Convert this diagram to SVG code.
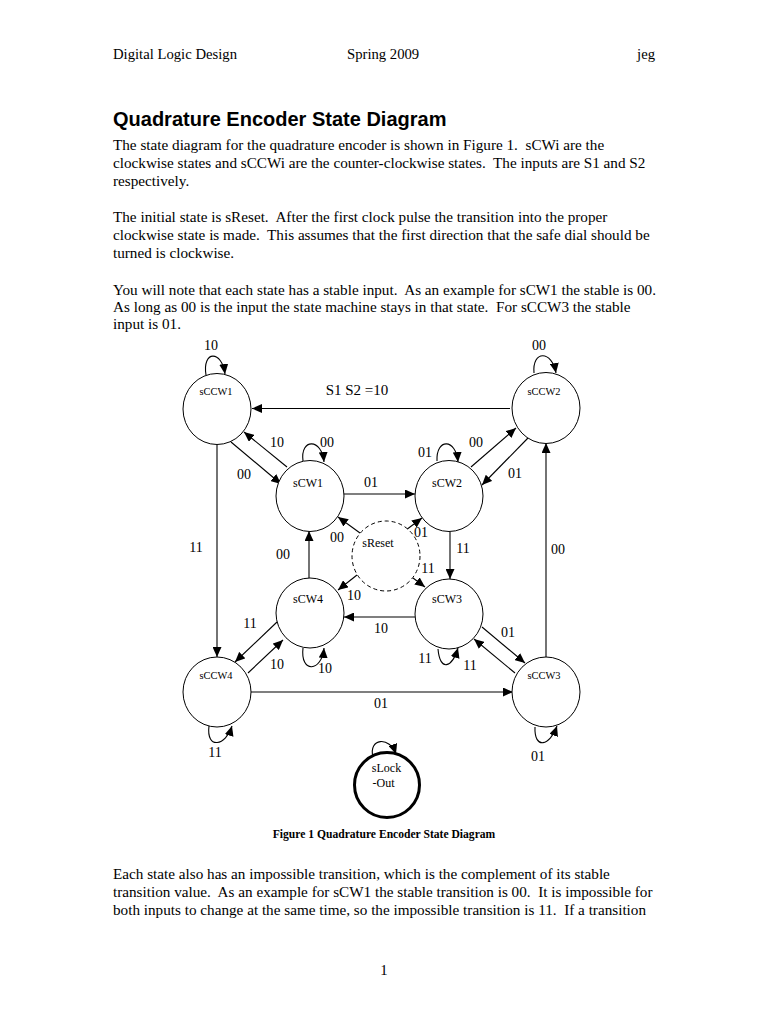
<svg xmlns="http://www.w3.org/2000/svg" width="768" height="1024" viewBox="0 0 768 1024" xml:space="preserve">
<defs>
<marker id="ah" markerUnits="userSpaceOnUse" markerWidth="11" markerHeight="9" refX="10" refY="4.5" orient="auto">
<path d="M0,0 L10,4.5 L0,9 z" fill="#000"/>
</marker>
<style>
.t{font-family:"Liberation Serif","Times New Roman",serif;font-size:15.2px;fill:#000;white-space:pre}
.hd{font-family:"Liberation Serif","Times New Roman",serif;font-size:14.7px;fill:#000}
.h{font-family:"Liberation Sans",Arial,sans-serif;font-size:20px;font-weight:bold;fill:#000}
.cap{font-family:"Liberation Serif","Times New Roman",serif;font-size:11.6px;font-weight:bold;fill:#000;text-anchor:middle}
.lb{font-family:"Liberation Serif","Times New Roman",serif;font-size:14px;fill:#000;text-anchor:middle}
.n{font-family:"Liberation Serif","Times New Roman",serif;font-size:10.4px;fill:#000;text-anchor:middle}
.m{font-family:"Liberation Serif","Times New Roman",serif;font-size:12px;fill:#000;text-anchor:middle}
.c{fill:#fff;stroke:#000;stroke-width:1}
.e{fill:none;stroke:#000;stroke-width:1.1;marker-end:url(#ah)}
</style>
</defs>
<rect width="768" height="1024" fill="#fff"/>
<g id="page-text">
<text class="hd" x="113" y="59">Digital Logic Design</text>
<text class="hd" x="347" y="59">Spring 2009</text>
<text class="hd" x="655" y="59" text-anchor="end">jeg</text>
<text class="h" x="113" y="126">Quadrature Encoder State Diagram</text>
<text class="t" x="113" y="150">The state diagram for the quadrature encoder is shown in Figure 1.  sCWi are the</text>
<text class="t" x="113" y="168">clockwise states and sCCWi are the counter-clockwise states.  The inputs are S1 and S2</text>
<text class="t" x="113" y="186">respectively.</text>
<text class="t" x="113" y="222">The initial state is sReset.  After the first clock pulse the transition into the proper</text>
<text class="t" x="113" y="240">clockwise state is made.  This assumes that the first direction that the safe dial should be</text>
<text class="t" x="113" y="258">turned is clockwise.</text>
<text class="t" x="113" y="295">You will note that each state has a stable input.  As an example for sCW1 the stable is 00.</text>
<text class="t" x="113" y="312">As long as 00 is the input the state machine stays in that state.  For sCCW3 the stable</text>
<text class="t" x="113" y="329">input is 01.</text>
<text class="cap" x="384" y="838">Figure 1 Quadrature Encoder State Diagram</text>
<text class="t" x="113" y="879">Each state also has an impossible transition, which is the complement of its stable</text>
<text class="t" x="113" y="897">transition value.  As an example for sCW1 the stable transition is 00.  It is impossible for</text>
<text class="t" x="113" y="915">both inputs to change at the same time, so the impossible transition is 11.  If a transition</text>
<text class="hd" x="384" y="975" text-anchor="middle">1</text>
</g>
<g id="connectors">
<path class="e" d="M510,408.5 L252,408.5"/>
<path class="e" d="M231,442 L281,484"/>
<path class="e" d="M287,467 L244,432"/>
<path class="e" d="M344,494 L415,494"/>
<path class="e" d="M471,467 L516,428"/>
<path class="e" d="M528,438 L482,485"/>
<path class="e" d="M217,445 L217,657"/>
<path class="e" d="M546,657 L546,443"/>
<path class="e" d="M450,532 L450,579"/>
<path class="e" d="M309,578 L309,531"/>
<path class="e" d="M415,617 L344,617"/>
<path class="e" d="M251,692 L513,692"/>
<path class="e" d="M277,622 L235,662"/>
<path class="e" d="M248,673 L283,640"/>
<path class="e" d="M482,627 L525,663"/>
<path class="e" d="M515,673 L474,639"/>
<path class="e" d="M360,533 L338,517"/>
<path class="e" d="M406,530 L422,518"/>
<path class="e" d="M413,578 L425,587"/>
<path class="e" d="M357,575 L338,590"/>
<path class="e" d="M206,375 C202,350 222,350 225,374"/>
<path class="e" d="M303,461 C300,438 322,438 324,462"/>
<path class="e" d="M437,461 C436,438 456,438 458,462"/>
<path class="e" d="M534,373 C532,350 552,350 556,373"/>
<path class="e" d="M303,648 C300,674 322,672 324,648"/>
<path class="e" d="M438,649 C440,672 452,668 458,648"/>
<path class="e" d="M209,726 C206,750 226,746 232,726"/>
<path class="e" d="M535,727 C534,750 550,746 557,726"/>
<path class="e" d="M373,757 C368,738 390,736 396,754"/>
<text class="lb" x="211" y="350">10</text>
<text class="lb" x="539" y="350">00</text>
<text class="lb" x="357" y="395" style="font-size:15px">S1 S2 =10</text>
<text class="lb" x="277" y="447">10</text>
<text class="lb" x="327" y="447">00</text>
<text class="lb" x="244" y="479">00</text>
<text class="lb" x="371" y="487">01</text>
<text class="lb" x="425" y="457">01</text>
<text class="lb" x="476" y="447">00</text>
<text class="lb" x="515" y="478">01</text>
<text class="lb" x="196" y="552">11</text>
<text class="lb" x="283" y="559">00</text>
<text class="lb" x="337" y="542">00</text>
<text class="lb" x="421" y="537">01</text>
<text class="lb" x="463" y="553">11</text>
<text class="lb" x="558" y="554">00</text>
<text class="lb" x="428" y="573">11</text>
<text class="lb" x="354" y="600">10</text>
<text class="lb" x="381" y="633">10</text>
<text class="lb" x="250" y="628">11</text>
<text class="lb" x="508" y="637">01</text>
<text class="lb" x="277" y="669">10</text>
<text class="lb" x="325" y="673">10</text>
<text class="lb" x="425" y="663">11</text>
<text class="lb" x="470" y="670">11</text>
<text class="lb" x="381" y="708">01</text>
<text class="lb" x="215" y="757">11</text>
<text class="lb" x="538" y="761">01</text>
</g>
<g id="sCCW1"><ellipse class="c" cx="217" cy="409" rx="34" ry="35.5"/><text class="n" x="216" y="395">sCCW1</text></g>
<g id="sCCW2"><ellipse class="c" cx="546" cy="408" rx="34" ry="35.5"/><text class="n" x="544" y="395">sCCW2</text></g>
<g id="sCW1"><ellipse class="c" cx="310" cy="496" rx="34" ry="35.5"/><text class="m" x="308" y="487">sCW1</text></g>
<g id="sCW2"><ellipse class="c" cx="449" cy="496" rx="34" ry="35.5"/><text class="m" x="447" y="487">sCW2</text></g>
<g id="sReset"><ellipse cx="386" cy="556" rx="34" ry="35" fill="#fff" stroke="#000" stroke-width="1" stroke-dasharray="4,3"/><text class="m" x="378" y="547">sReset</text></g>
<g id="sCW4"><ellipse class="c" cx="310" cy="613" rx="34" ry="35"/><text class="m" x="308" y="603">sCW4</text></g>
<g id="sCW3"><ellipse class="c" cx="449" cy="614" rx="34" ry="35"/><text class="m" x="447" y="603">sCW3</text></g>
<g id="sCCW4"><ellipse class="c" cx="217" cy="692" rx="34" ry="35"/><text class="n" x="216" y="679">sCCW4</text></g>
<g id="sCCW3"><ellipse class="c" cx="546" cy="692" rx="34" ry="35"/><text class="n" x="544" y="679">sCCW3</text></g>
<g id="sLockOut"><circle cx="387" cy="785" r="32.5" fill="#fff" stroke="#000" stroke-width="3"/><text class="m" x="386.5" y="772">sLock</text><text class="m" x="383.5" y="787">-Out</text></g>
</svg>
